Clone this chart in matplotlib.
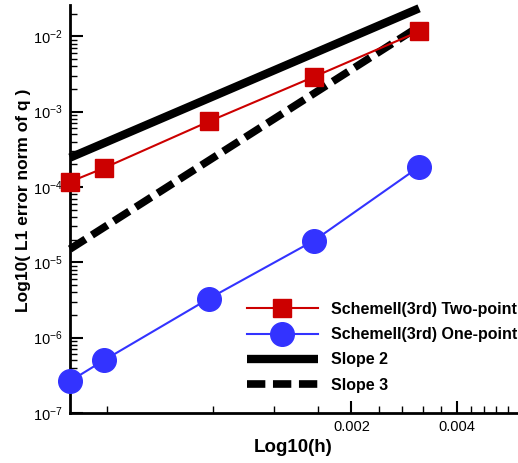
import numpy as np
import matplotlib
matplotlib.use("Agg")
import matplotlib.pyplot as plt
from matplotlib.ticker import FixedLocator, LogLocator, FuncFormatter, NullFormatter

plt.rcParams['font.family'] = ['Liberation Sans', 'DejaVu Sans']
plt.rcParams['mathtext.fontset'] = 'custom'
plt.rcParams['mathtext.rm'] = 'Liberation Sans'
plt.rcParams['mathtext.it'] = 'Liberation Sans:italic'
plt.rcParams['mathtext.bf'] = 'Liberation Sans:bold'

# Data
h = [0.0003125, 0.000390625, 0.00078125, 0.0015625, 0.003125]
err_two_point = [1.17e-4, 1.78e-4, 7.4e-4, 2.9e-3, 1.16e-2]
err_one_point = [2.65e-7, 5.0e-7, 3.3e-6, 1.94e-5, 1.85e-4]
slope_h = [0.0003125, 0.003125]
slope2_err = [2.45e-4, 2.35e-2]
slope3_err = [1.5e-5, 1.35e-2]
labels = ["SchemeII(3rd) Two-point", "SchemeII(3rd) One-point", "Slope 2", "Slope 3"]

fig = plt.figure(figsize=(5.18, 4.63), dpi=100)
ax = fig.add_axes([70/518, 50/463, 1 - 70/518, 408/463])

red = '#CC0000'
blue = '#3333FF'
ax.plot(h, err_two_point, color=red, lw=1.5, marker='s', ms=13, mec=red, mfc=red,
        label=labels[0], zorder=4, clip_on=False)
ax.plot(h, err_one_point, color=blue, lw=1.5, marker='o', ms=17, mec=blue, mfc=blue,
        label=labels[1], zorder=4, clip_on=False)
ax.plot(slope_h, slope2_err, color='black', lw=6, solid_capstyle='butt',
        label=labels[2], zorder=3, clip_on=False)
ax.plot(slope_h, slope3_err, color='black', lw=5.5, ls=(0, (2.4, 1.0)),
        dash_capstyle='butt', label=labels[3], zorder=3, clip_on=False)

ax.set_xscale('log')
ax.set_yscale('log')
ax.set_xlim(0.0003125, 0.0060)
ax.set_ylim(1e-7, 2.6e-2)

ax.spines['top'].set_visible(False)
ax.spines['right'].set_visible(False)
ax.spines['left'].set_linewidth(2)
ax.spines['bottom'].set_linewidth(2)

ax.xaxis.set_major_locator(FixedLocator([0.002, 0.004]))
minors = [v for v in np.arange(1, 15) * 0.0004 if abs(v / 0.002 - round(v / 0.002)) > 1e-6]
ax.xaxis.set_minor_locator(FixedLocator(minors))
ax.xaxis.set_major_formatter(FuncFormatter(lambda v, p: f"{v:.3f}"))
ax.xaxis.set_minor_formatter(NullFormatter())

ax.yaxis.set_major_locator(LogLocator(base=10, numticks=20))
ax.yaxis.set_minor_locator(LogLocator(base=10, subs=np.arange(2, 10), numticks=20))
ax.yaxis.set_major_formatter(FuncFormatter(lambda v, p: r"$10^{%d}$" % int(round(np.log10(v)))))
ax.yaxis.set_minor_formatter(NullFormatter())

ax.tick_params(which='major', direction='in', length=9, width=1.5, labelsize=10.5, pad=5)
ax.tick_params(which='minor', direction='in', length=5, width=1.0)

ax.set_xlabel("Log10(h)", fontsize=13.5, fontweight='bold')
ax.xaxis.set_label_coords((293 - 70) / 448, (413 - 448) / 408)
ax.xaxis.label.set_va('center')
ax.set_ylabel("Log10( L1 error norm of q )", fontsize=12.5, fontweight='bold')
ax.yaxis.set_label_coords((24 - 70) / 448, (413 - 200) / 408)
ax.yaxis.label.set_va('center')

leg = fig.legend(loc='upper left', bbox_to_anchor=(247/518, (463 - 302)/463),
                 frameon=False, handlelength=4.44, handletextpad=0.8,
                 labelspacing=0.64, borderpad=0, borderaxespad=0, markerscale=1.0,
                 prop={'weight': 'bold', 'size': 11.5})

fig.savefig("out.png", dpi=100)
